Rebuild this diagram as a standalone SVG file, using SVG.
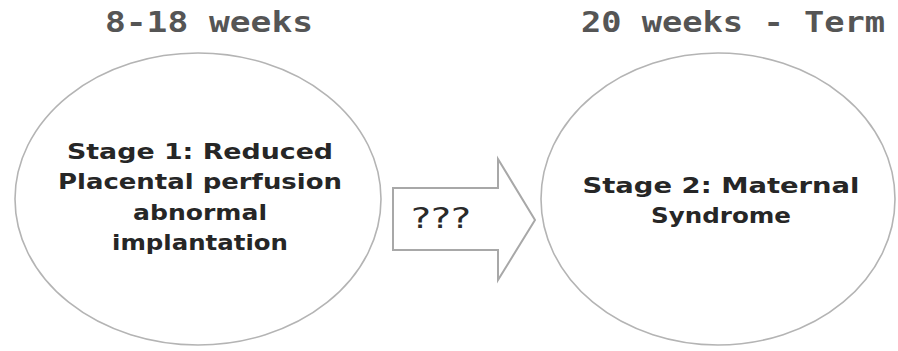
<svg xmlns="http://www.w3.org/2000/svg" width="898" height="351" viewBox="0 0 898 351">
<style>
.bg{fill:#ffffff}
.node{fill:#ffffff;stroke:#b4b4b4;stroke-width:1.6}
.arrow{fill:#ffffff;stroke:#a8a8a8;stroke-width:2}
.title{font-family:"DejaVu Sans Mono","Liberation Mono",monospace;font-weight:bold;font-size:29px;fill:#555555}
.lbl{font-family:"DejaVu Sans","Liberation Sans",sans-serif;font-weight:bold;font-size:22px;fill:#262626;text-anchor:middle}
.q{font-family:"DejaVu Sans","Liberation Sans",sans-serif;font-size:29px;fill:#2a2a2a}
</style>
<rect class="bg" x="0" y="0" width="898" height="351"/>
<g id="titles">
<text class="title" x="105" y="32" textLength="208" lengthAdjust="spacingAndGlyphs">8-18 weeks</text>
<text class="title" x="581" y="32" textLength="304" lengthAdjust="spacingAndGlyphs">20 weeks - Term</text>
</g>
<g id="stage1">
<ellipse class="node" cx="198" cy="199" rx="183" ry="146"/>
<text class="lbl" x="200" y="159" textLength="266" lengthAdjust="spacingAndGlyphs">Stage 1: Reduced</text>
<text class="lbl" x="200" y="189" textLength="284" lengthAdjust="spacingAndGlyphs">Placental perfusion</text>
<text class="lbl" x="200" y="220" textLength="134" lengthAdjust="spacingAndGlyphs">abnormal</text>
<text class="lbl" x="200" y="250" textLength="176" lengthAdjust="spacingAndGlyphs">implantation</text>
</g>
<g id="stage2">
<ellipse class="node" cx="718" cy="199" rx="177" ry="146"/>
<text class="lbl" x="721" y="193" textLength="277" lengthAdjust="spacingAndGlyphs">Stage 2: Maternal</text>
<text class="lbl" x="721" y="223" textLength="140" lengthAdjust="spacingAndGlyphs">Syndrome</text>
</g>
<g id="connectors">
<path class="arrow" d="M393 188 L498 188 L498 159 L535 220 L498 280 L498 250 L393 250 Z"/>
<text class="q" x="411" y="228" textLength="60" lengthAdjust="spacingAndGlyphs">???</text>
</g>
</svg>
